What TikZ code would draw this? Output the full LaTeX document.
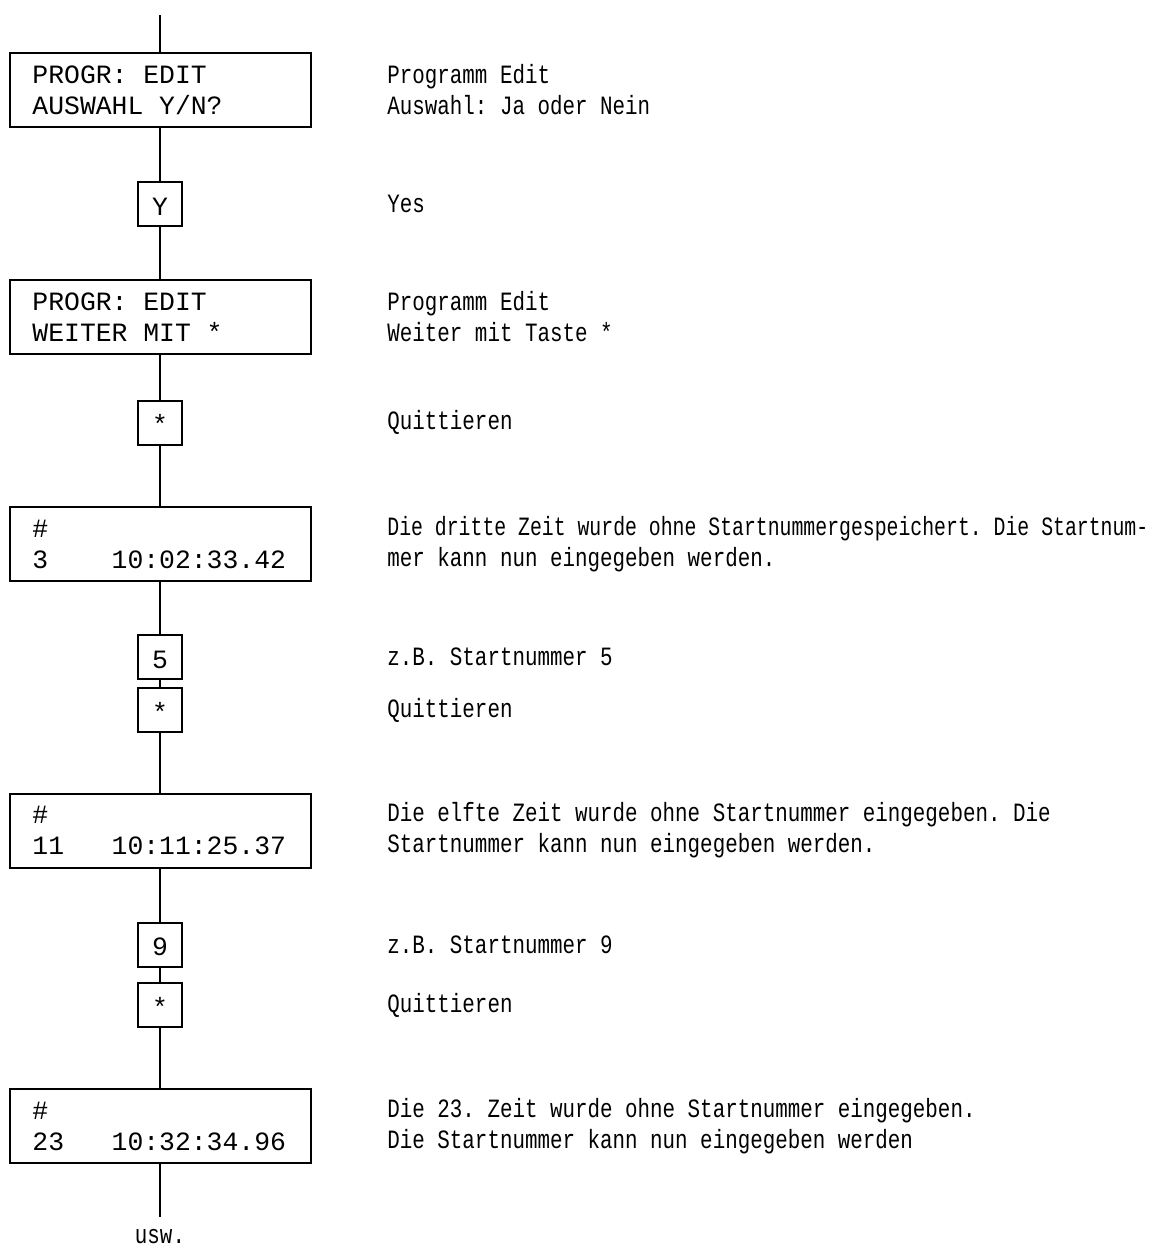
\documentclass[tikz,border=0pt]{standalone}
\usepackage{fontspec}
\setmonofont{Liberation Mono}
\newfontfamily\descfont[FakeStretch=0.79]{Liberation Mono}
\usepackage{graphicx}
\usepackage{tikz}
\usetikzlibrary{positioning, calc}
\tikzset{
    font=\ttfamily\fontsize{13.2}{15.5}\selectfont\frenchspacing,
    % Shapes
    display/.style={rectangle, draw, line width=1pt, minimum width=150.5pt, minimum height=37pt,
                    text width=127.5pt, inner xsep=11.5pt, inner ysep=0pt, align=flush left},
    key/.style={rectangle, draw, line width=1pt, minimum size=22pt, inner sep=0pt,
                text height=15pt, text depth=4pt},
    % Flow & Labels
    flow/.style={line width=1pt},
    desc/.style={anchor=west, inner sep=0pt, align=flush left,
                 font=\descfont\fontsize{13.2}{15.5}\selectfont\frenchspacing}
}

\begin{document}
\begin{tikzpicture}[x=0.5pt, y=-0.5pt]

\useasboundingbox (0,0) rectangle (1169,1248);
\coordinate (descx) at (387,0);

% Ablauf
\coordinate (top) at (160,15);
\node[display] (edit1) at (160,90) {PROGR: EDIT\\AUSWAHL Y/N?};
\node[key] (keyY) at (160,204) {Y};
\node[display] (edit2) at (160,317) {PROGR: EDIT\\WEITER MIT *};
\node[key] (ack1) at (160,422.5) {*};
\node[display] (time3) at (160,544) {\#\\3\ \ \ \ 10:02:33.42};
\node[key] (num5) at (160,657) {5};
\node[key] (ack2) at (160,710) {*};
\node[display] (time11) at (160,830.5) {\#\\11\ \ \ 10:11:25.37};
\node[key] (num9) at (160,944.5) {9};
\node[key] (ack3) at (160,1005) {*};
\node[display] (time23) at (160,1126) {\#\\23\ \ \ 10:32:34.96};
\coordinate (bottom) at (160,1217);
\node[desc, anchor=base] (usw) at (160,1243) {usw.};

\draw[flow] (top) -- (edit1) -- (keyY) -- (edit2) -- (ack1) -- (time3) -- (num5) -- (ack2)
    -- (time11) -- (num9) -- (ack3) -- (time23) -- (bottom);

% Erklaerungen
\node[desc] (dEdit1) at (edit1 -| descx) {Programm Edit\\Auswahl: Ja oder Nein};
\node[desc] (dKeyY) at (keyY -| descx) {Yes};
\node[desc] (dEdit2) at (edit2 -| descx) {Programm Edit\\Weiter mit Taste *};
\node[desc] (dAck1) at (ack1 -| descx) {Quittieren};
\node[desc] (dTime3) at (time3 -| descx)
    {\scalebox{0.95}[1]{Die dritte Zeit wurde ohne Startnummergespeichert. Die Startnum-}\\mer kann nun eingegeben werden.};
\node[desc] (dNum5) at (num5 -| descx) {z.B. Startnummer 5};
\node[desc] (dAck2) at (ack2 -| descx) {Quittieren};
\node[desc] (dTime11) at (time11 -| descx)
    {Die elfte Zeit wurde ohne Startnummer eingegeben. Die\\Startnummer kann nun eingegeben werden.};
\node[desc] (dNum9) at (num9 -| descx) {z.B. Startnummer 9};
\node[desc] (dAck3) at (ack3 -| descx) {Quittieren};
\node[desc] (dTime23) at (time23 -| descx)
    {Die 23. Zeit wurde ohne Startnummer eingegeben.\\Die Startnummer kann nun eingegeben werden};

\end{tikzpicture}
\end{document}
